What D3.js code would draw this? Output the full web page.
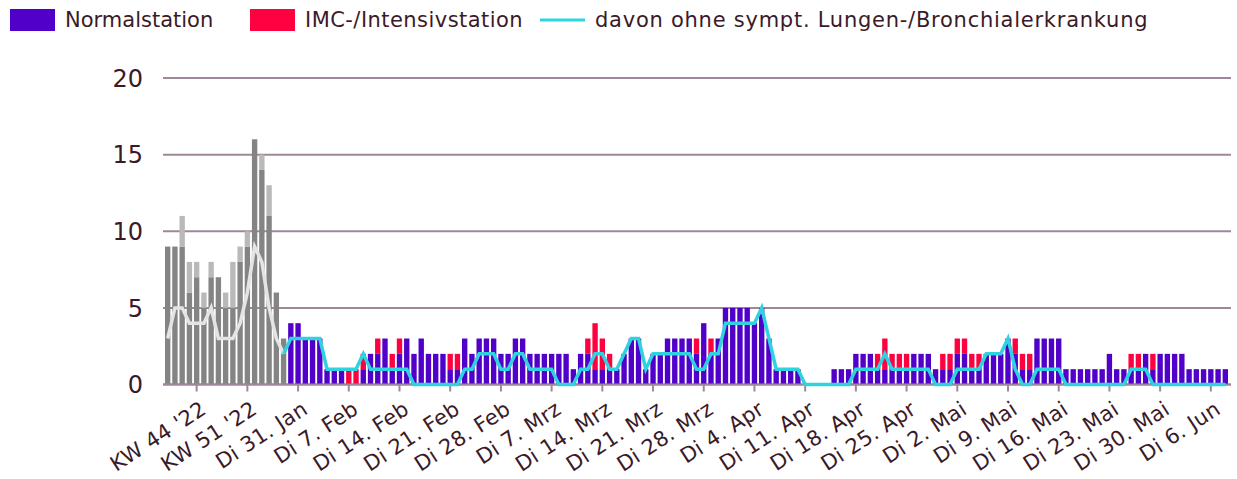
<!DOCTYPE html>
<html>
<head>
<meta charset="utf-8">
<script src="https://cdn.jsdelivr.net/npm/d3@7"></script>
<style>
  body { margin: 0; background: #fff; }
  svg { display: block; font-family: "DejaVu Sans", Verdana, sans-serif; }
</style>
</head>
<body>
<svg id="chart" width="1237" height="479"></svg>
<script>
// weekly part (KW 40 '22 .. KW 4 '23), shown in grey
const weekLabels = ["KW 40 '22", "KW 41 '22", "KW 42 '22", "KW 43 '22", "KW 44 '22", "KW 45 '22",
  "KW 46 '22", "KW 47 '22", "KW 48 '22", "KW 49 '22", "KW 50 '22", "KW 51 '22", "KW 52 '22",
  "KW 1 '23", "KW 2 '23", "KW 3 '23", "KW 4 '23"];
const weekNormal = [9, 9, 9, 6, 7, 5, 7, 7, 5, 5, 8, 9, 16, 14, 11, 6, 3];
const weekIMC    = [0, 0, 2, 2, 1, 1, 1, 0, 1, 3, 1, 1, 0, 1, 2, 0, 0];
const weekOhne   = [3, 5, 5, 4, 4, 4, 5, 3, 3, 3, 4, 6, 9, 8, 5, 3, 2];

// daily part, Mo 30. Jan 2023 .. Do 8. Jun 2023
const dayNormal = [4, 4, 3, 3, 3, 1, 1, 1, 0, 0, 1, 2, 2, 3, 1, 2, 3, 2, 3, 2,
  2, 2, 1, 1, 3, 2, 3, 3, 3, 2, 2, 3, 3, 2, 2, 2, 2, 2, 2, 1,
  2, 2, 1, 1, 1, 1, 2, 3, 3, 1, 2, 2, 3, 3, 3, 3, 2, 4, 2, 3,
  5, 5, 5, 5, 4, 5, 3, 1, 1, 1, 1, 0, 0, 0, 0, 1, 1, 1, 2, 2,
  2, 1, 1, 1, 1, 1, 2, 2, 2, 1, 1, 1, 2, 2, 1, 1, 2, 2, 2, 3,
  2, 1, 1, 3, 3, 3, 3, 1, 1, 1, 1, 1, 1, 2, 1, 1, 1, 1, 2, 1,
  2, 2, 2, 2, 1, 1, 1, 1, 1, 1];
const dayIMC = [0, 0, 0, 0, 0, 0, 0, 0, 1, 1, 1, 0, 1, 0, 1, 1, 0, 0, 0, 0,
  0, 0, 1, 1, 0, 0, 0, 0, 0, 0, 0, 0, 0, 0, 0, 0, 0, 0, 0, 0,
  0, 1, 3, 2, 1, 0, 0, 0, 0, 0, 0, 0, 0, 0, 0, 0, 1, 0, 1, 0,
  0, 0, 0, 0, 0, 0, 0, 0, 0, 0, 0, 0, 0, 0, 0, 0, 0, 0, 0, 0,
  0, 1, 2, 1, 1, 1, 0, 0, 0, 0, 1, 1, 1, 1, 1, 1, 0, 0, 0, 0,
  1, 1, 1, 0, 0, 0, 0, 0, 0, 0, 0, 0, 0, 0, 0, 0, 1, 1, 0, 1,
  0, 0, 0, 0, 0, 0, 0, 0, 0, 0];
const dayOhne = [3, 3, 3, 3, 3, 1, 1, 1, 1, 1, 2, 1, 1, 1, 1, 1, 1, 0, 0, 0,
  0, 0, 0, 0, 1, 1, 2, 2, 2, 1, 1, 2, 2, 1, 1, 1, 1, 0, 0, 0,
  1, 1, 2, 2, 1, 1, 2, 3, 3, 1, 2, 2, 2, 2, 2, 2, 1, 1, 2, 2,
  4, 4, 4, 4, 4, 5, 3, 1, 1, 1, 1, 0, 0, 0, 0, 0, 0, 0, 1, 1,
  1, 1, 2, 1, 1, 1, 1, 1, 1, 0, 0, 0, 1, 1, 1, 1, 2, 2, 2, 3,
  1, 0, 0, 1, 1, 1, 1, 0, 0, 0, 0, 0, 0, 0, 0, 0, 1, 1, 1, 0,
  0, 0, 0, 0, 0, 0, 0, 0, 0, 0];

const yTicks = [0, 5, 10, 15, 20];
const monthNames = ["Jan", "Feb", "Mrz", "Apr", "Mai", "Jun"];

const colors = {
  normal: "#5000c8", imc: "#ff0040", ohne: "#2fd3e0",
  greyDark: "#848484", greyLight: "#b9b9b9", greyLine: "#e4e4e4",
  grid: "#9e8798", text: "#3b1a28"
};

// build day labels
const start = new Date(2023, 0, 30);
const dayLabels = dayNormal.map((_, i) => {
  const d = new Date(start.getTime() + i * 86400000);
  return { date: d, label: "Di " + d.getDate() + ". " + monthNames[d.getMonth()] };
});

const rows = [];
weekLabels.forEach((l, i) => rows.push({
  key: l, label: l, weekly: true, n: weekNormal[i], imc: weekIMC[i], ohne: weekOhne[i],
  tick: l === "KW 44 '22" || l === "KW 51 '22"
}));
dayLabels.forEach((d, i) => rows.push({
  key: "d" + i, label: d.label, weekly: false, n: dayNormal[i], imc: dayIMC[i], ohne: dayOhne[i],
  tick: d.date.getDay() === 2
}));

const svg = d3.select("#chart");
const left = 163, right = 1231;

const x = d3.scaleBand()
  .domain(rows.map(r => r.key))
  .range([165, 1228])
  .paddingInner(0.26)
  .paddingOuter(0);
const y = d3.scaleLinear().domain([0, 20]).range([384.5, 78]);

// gridlines
svg.append("g")
  .selectAll("line")
  .data(yTicks)
  .enter()
  .append("line")
  .attr("x1", left).attr("x2", right)
  .attr("y1", d => y(d)).attr("y2", d => y(d))
  .attr("stroke", colors.grid)
  .attr("stroke-width", 2);

// y labels
svg.append("g")
  .selectAll("text")
  .data(yTicks)
  .enter()
  .append("text")
  .attr("x", 143)
  .attr("y", d => y(d))
  .attr("dy", "0.36em")
  .attr("text-anchor", "end")
  .attr("font-size", "24px")
  .attr("fill", colors.text)
  .text(d => d);

// bars
const bars = svg.append("g");
bars.selectAll("rect.n")
  .data(rows)
  .enter()
  .append("rect")
  .attr("class", "n")
  .attr("x", d => x(d.key))
  .attr("width", x.bandwidth())
  .attr("y", d => y(d.n))
  .attr("height", d => y(0) - y(d.n))
  .attr("fill", d => d.weekly ? colors.greyDark : colors.normal);

bars.selectAll("rect.imc")
  .data(rows.filter(r => r.imc > 0))
  .enter()
  .append("rect")
  .attr("class", "imc")
  .attr("x", d => x(d.key))
  .attr("width", x.bandwidth())
  .attr("y", d => y(d.n + d.imc))
  .attr("height", d => y(d.n) - y(d.n + d.imc))
  .attr("fill", d => d.weekly ? colors.greyLight : colors.imc);

// x axis line and ticks
svg.append("line")
  .attr("x1", left).attr("x2", right)
  .attr("y1", y(0)).attr("y2", y(0))
  .attr("stroke", colors.grid)
  .attr("stroke-width", 2);

const tickRows = rows.filter(r => r.tick);
const cx = d => x(d.key) + x.bandwidth() / 2;

svg.append("g")
  .selectAll("line")
  .data(tickRows)
  .enter()
  .append("line")
  .attr("x1", cx).attr("x2", cx)
  .attr("y1", y(0)).attr("y2", y(0) + 7)
  .attr("stroke", colors.grid)
  .attr("stroke-width", 2);

svg.append("g")
  .selectAll("text")
  .data(tickRows)
  .enter()
  .append("text")
  .attr("transform", d => `translate(${cx(d) + 7},${y(0) + 22}) rotate(-33)`)
  .attr("text-anchor", "end")
  .attr("dy", "0.35em")
  .attr("font-size", "21px")
  .attr("letter-spacing", "0.3px")
  .attr("fill", colors.text)
  .text(d => d.label);

// lines
const line = d3.line()
  .x(cx)
  .y(d => y(d.ohne));

const weekRows = rows.filter(r => r.weekly);
svg.append("path")
  .datum(weekRows)
  .attr("d", line)
  .attr("fill", "none")
  .attr("stroke", colors.greyLine)
  .attr("stroke-width", 3.5);

svg.append("path")
  .datum(rows.slice(weekRows.length - 1))
  .attr("d", line)
  .attr("fill", "none")
  .attr("stroke", colors.ohne)
  .attr("stroke-width", 3.5);

// legend
const legend = svg.append("g").attr("font-size", "21px").attr("fill", colors.text);
const items = [
  { label: "Normalstation", color: colors.normal, type: "rect", x: 10, ls: 0 },
  { label: "IMC-/Intensivstation", color: colors.imc, type: "rect", x: 250, ls: 0.45 },
  { label: "davon ohne sympt. Lungen-/Bronchialerkrankung", color: colors.ohne, type: "line", x: 540, ls: 0.75 }
];
items.forEach(it => {
  if (it.type === "rect") {
    legend.append("rect").attr("x", it.x).attr("y", 9).attr("width", 45).attr("height", 22).attr("fill", it.color);
  } else {
    legend.append("line").attr("x1", it.x).attr("x2", it.x + 45).attr("y1", 20).attr("y2", 20)
      .attr("stroke", it.color).attr("stroke-width", 3);
  }
  legend.append("text").attr("x", it.x + 55).attr("y", 20).attr("dy", "0.35em")
    .attr("letter-spacing", it.ls + "px").text(it.label);
});
</script>
</body>
</html>
